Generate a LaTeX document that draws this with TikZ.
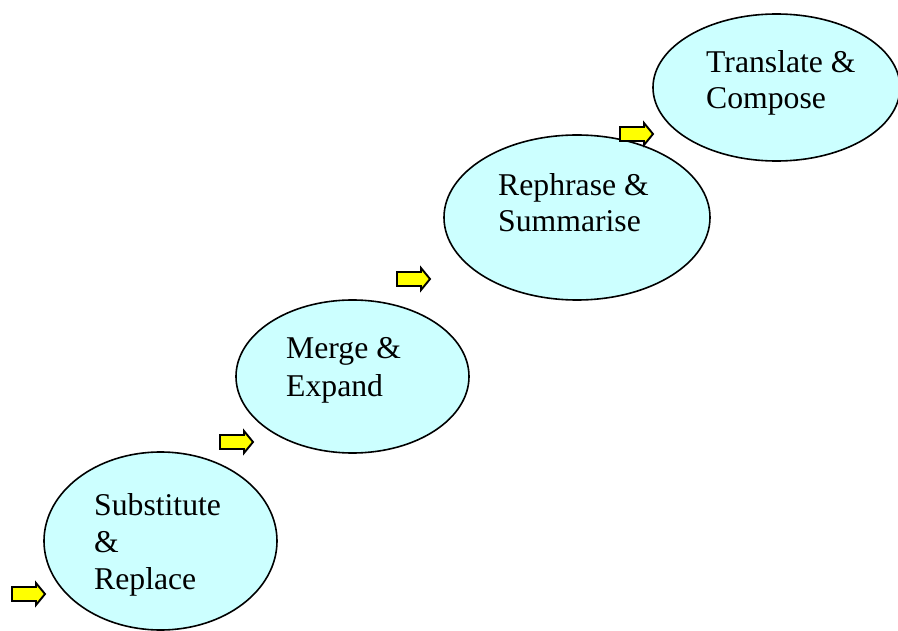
\documentclass[tikz,border=0pt]{standalone}
\usepackage{fontspec}
\setmainfont{Liberation Serif}
\usetikzlibrary{shapes.geometric}
\definecolor{bubble}{HTML}{CCFFFF}
\definecolor{arrowyellow}{HTML}{FFFF00}
\begin{document}
\begin{tikzpicture}[x=1pt,y=-1pt,
  bubblenode/.style={ellipse,draw=black,line width=1.6pt,fill=bubble,inner sep=0pt},
  linetext/.style={anchor=base west,inner sep=0pt,font=\fontsize{31.7}{37}\selectfont},
  yarrow/.pic={\draw[line width=1.9pt,fill=arrowyellow,line join=miter]
      (0,-7) -- (24,-7) -- (24,-11) -- (33,0) -- (24,11) -- (24,7) -- (0,7) -- cycle;}
]
\useasboundingbox (0,0) rectangle (898,631);
\clip (0,0) rectangle (898,631);
\fill[white] (0,0) rectangle (898,631);

% ellipses
\node[bubblenode,minimum width=233pt,minimum height=178pt] (e1) at (160.5,541) {};
\node[bubblenode,minimum width=233pt,minimum height=153pt] (e2) at (352.5,376.5) {};
\node[bubblenode,minimum width=266pt,minimum height=165pt] (e3) at (577,217.5) {};
\node[bubblenode,minimum width=247pt,minimum height=147pt] (e4) at (776.5,87.5) {};

% texts
\node[linetext] (t1a) at (94,515) {Substitute};
\node[linetext] (t1b) at (94,552) {\&};
\node[linetext] (t1c) at (94,589) {Replace};
\node[linetext] (t2a) at (286,359) {Merge \&};
\node[linetext] (t2b) at (286,396) {Expand};
\node[linetext] (t3a) at (498,196) {Rephrase \&};
\node[linetext] (t3b) at (498,232) {Summarise};
\node[linetext] (t4a) at (706,73) {Translate \&};
\node[linetext] (t4b) at (706,109) {Compose};

% arrows
\pic at (12,594) {yarrow};
\pic at (220,442) {yarrow};
\pic at (397,279) {yarrow};
\pic at (620,134) {yarrow};
\end{tikzpicture}
\end{document}
